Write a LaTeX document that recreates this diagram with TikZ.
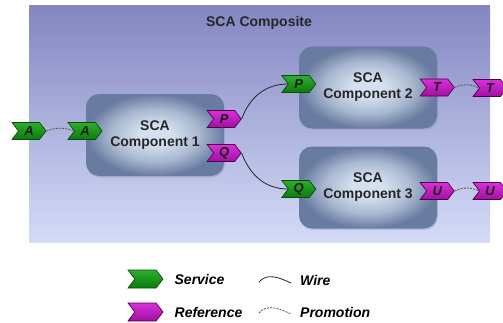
\documentclass[tikz,border=0pt]{standalone}
\usepackage{fontspec}
\setmainfont{Liberation Sans}
\usetikzlibrary{positioning,shapes.symbols,shadows,calc}
\definecolor{bgtop}{HTML}{8486C1}
\definecolor{bgmid}{HTML}{BCC4EE}
\definecolor{bgbot}{HTML}{D4DCF8}
\definecolor{boxin}{HTML}{D4E0EF}
\definecolor{boxout}{HTML}{687BA0}
\definecolor{svctop}{HTML}{2DAF2D}
\definecolor{svcbot}{HTML}{0C7A0C}
\definecolor{svcdark}{HTML}{0A4A0A}
\definecolor{reftop}{HTML}{DA30DA}
\definecolor{refbot}{HTML}{A010A0}
\definecolor{refdark}{HTML}{4E004E}
\pgfdeclareradialshading{compshade}{\pgfpoint{0bp}{0bp}}{%
	color(0bp)=(boxin); color(6bp)=(boxin); color(16bp)=(boxin!60!boxout); color(25bp)=(boxout); color(50bp)=(boxout)}
\tikzset{%
	composite/.style = {minimum width=461pt, minimum height=236pt, inner sep=0pt, top color=bgtop, middle color=bgmid, bottom color=bgbot},
	comp/.style      = {rounded corners=13pt, minimum width=138pt, minimum height=82pt, shading=compshade, drop shadow={opacity=0.25,shadow xshift=1pt,shadow yshift=-1.5pt}, align=center, font=\bfseries\fontsize{14}{16}\selectfont, text=black!85},
	port/.style      = {signal, signal to=east, signal from=west, signal pointer angle=105, minimum width=34pt, minimum height=17pt, inner sep=0pt, font=\bfseries\itshape\fontsize{13}{13}\selectfont, line width=0.7pt},
	svc/.style       = {port, draw=svcdark, top color=svctop, bottom color=svcbot, text=black!90},
	ref/.style       = {port, draw=refdark, top color=reftop, bottom color=refbot, text=black!90},
	wire/.style      = {black!85, line width=0.8pt},
	promo/.style     = {gray!70!black, line width=0.9pt, dash pattern=on 2pt off 1.2pt},
	legtext/.style   = {font=\bfseries\itshape\fontsize{14}{16}\selectfont, inner sep=0pt, anchor=west},
}
\begin{document}
\begin{tikzpicture}[x=1pt,y=1pt]
		\useasboundingbox (0,0) rectangle (503,322);
		\node[composite] (compo) at (259.5,198) {};
		\node[font=\bfseries\fontsize{14}{16}\selectfont, text=black!85] (title) at (259,299) {SCA Composite};
		
		\node[comp] (comp1) at (155,187) {SCA\\Component 1};
		\node[comp] (comp2) at (368,234.5) {SCA\\Component 2};
		\node[comp] (comp3) at (368,134.5) {SCA\\Component 3};
		
		\node[svc] (aOut) at (29,191) {A};
		\node[svc] (aIn) at (85,191) {A};
		\node[ref] (c1P) at ([yshift=16pt]comp1.east) {P};
		\node[ref] (c1Q) at ([yshift=-18pt]comp1.east) {Q};
		\node[svc] (c2P) at ([yshift=3.5pt]comp2.west) {P};
		\node[ref] (c2T) at (comp2.east) {T};
		\node[svc] (c3Q) at ([yshift=-1.5pt]comp3.west) {Q};
		\node[ref] (c3U) at ([yshift=-3.5pt]comp3.east) {U};
		\node[ref] (tOut) at (490,234) {T};
		\node[ref] (uOut) at (490,131) {U};
		
		\draw[promo] (aOut.east) to[bend left=20] (aIn.west);
		\draw[wire] (c1P.east) to[out=70,in=180] (c2P.west);
		\draw[wire] (c1Q.east) to[out=-70,in=180] (c3Q.west);
		\draw[promo] (c2T.east) to[bend left=25] (tOut.west);
		\draw[promo] (c3U.east) to[bend left=25] (uOut.west);
		
		% legend
		\node[svc, minimum width=35pt, minimum height=18pt] (svcKey) at (145.5,43) {};
		\node[ref, minimum width=35pt, minimum height=18pt] (refKey) at (145.5,10) {};
		\node[legtext, right=11pt of svcKey] (svcText) {Service};
		\node[legtext, right=11pt of refKey] (refText) {Reference};
		\coordinate (w1) at (259,40);
		\coordinate (w2) at (291,39);
		\coordinate (p1) at (259,9);
		\coordinate (p2) at (291,8);
		\draw[wire] (w1) to[out=50,in=155] (w2);
		\draw[promo] (p1) to[out=50,in=155] (p2);
		\node[legtext] (wireText) at (300,42) {Wire};
		\node[legtext] (promoText) at (300,10) {Promotion};
		
\end{tikzpicture}
\end{document}
